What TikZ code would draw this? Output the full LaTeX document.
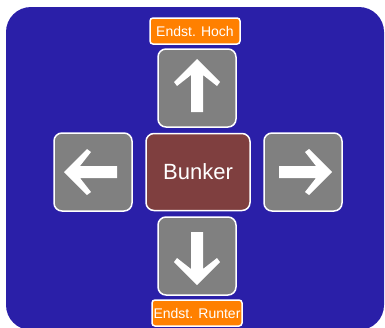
\documentclass[tikz,border=0pt]{standalone}
\usepackage{fontspec}
\setmainfont{Liberation Sans}
\usepackage{tikz}

\definecolor{panelblue}{HTML}{2A1FA8}
\definecolor{keygray}{HTML}{808080}
\definecolor{bunkerred}{HTML}{7F3F3F}
\definecolor{endorange}{HTML}{FF8000}

\tikzset{
  knopf/.style={draw=white, line width=1.5pt, fill=keygray, rounded corners=8pt,
    minimum size=78pt, inner sep=0pt},
  bunkerbox/.style={draw=white, line width=1.5pt, fill=bunkerred, rounded corners=8pt,
    minimum width=104pt, minimum height=77pt, text=white, font=\fontsize{22}{24}\selectfont},
  endlabel/.style={draw=white, line width=1.5pt, fill=endorange, rounded corners=3pt,
    minimum width=90pt, minimum height=26pt, inner sep=0pt, text=white,
    font=\fontsize{14}{16}\selectfont}
}

\begin{document}
\begin{tikzpicture}[x=1pt, y=-1pt]
    \useasboundingbox (0,0) rectangle (385,327);
    \fill[panelblue, rounded corners=25pt] (6,7) rectangle (384,330);

    \node[knopf] (up) at (197,88) {};
    \node[knopf] (down) at (197,256) {};
    \node[knopf] (left) at (93,172) {};
    \node[knopf] (right) at (303,172) {};
    \node[bunkerbox] (bunker) at (198,172) {Bunker};

    \node[endlabel] (hoch) at (195,31) {Endst. Hoch};
    \node[endlabel] (runter) at (197,313) {Endst. Runter};

    % white arrows, same shape turned
    \foreach \name/\ang in {up/0, left/90, right/-90, down/180}
        \fill[white, shift={(\name)}, rotate=\ang]
            (0,-29) -- (23,-6) -- (20,-2) -- (6,-13) -- (6,24) -- (-6,24)
            -- (-6,-13) -- (-20,-2) -- (-23,-6) -- cycle;
\end{tikzpicture}
\end{document}
